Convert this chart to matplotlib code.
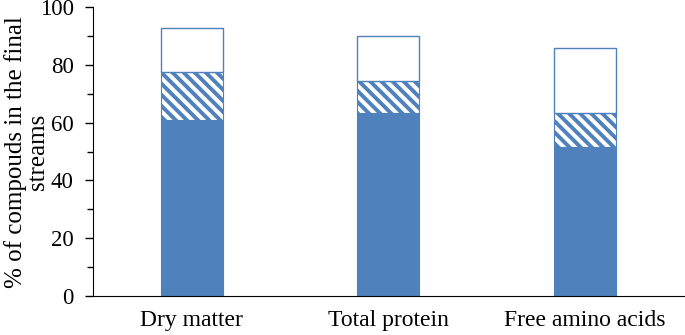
import numpy as np
import matplotlib
matplotlib.use('Agg')
import matplotlib.pyplot as plt

plt.rcParams['font.family'] = 'Liberation Serif'
plt.rcParams['hatch.linewidth'] = 2.8

categories = ['Dry matter', 'Total protein', 'Free amino acids']
solid_part = [61.0, 63.5, 51.5]
hatched_part = [16.7, 11.0, 12.0]
white_part = [15.0, 15.5, 22.2]

blue = '#4F81BD'

fig = plt.figure(figsize=(6.85, 3.35), dpi=100)
ax = fig.add_axes([0.136, 0.116, 0.862, 0.863])

x = np.arange(len(categories))
w = 0.315
ax.bar(x, solid_part, w, color=blue, edgecolor=blue, linewidth=0.8)
ax.bar(x, hatched_part, w, bottom=solid_part, color='white', edgecolor=blue,
       hatch='\\\\\\', linewidth=0.8)
bottom2 = np.array(solid_part) + np.array(hatched_part)
ax.bar(x, white_part, w, bottom=bottom2, color='white', edgecolor=blue, linewidth=1.0)

ax.set_xlim(-0.5, 2.5)
ax.set_ylim(0, 100)
ax.set_yticks(range(0, 101, 20))
ax.set_yticks(range(10, 100, 20), minor=True)
ax.set_xticks(x)
ax.set_xticklabels(categories, fontsize=17)
ax.tick_params(axis='y', labelsize=16.5, direction='out', length=6, width=1, pad=8)
ax.tick_params(axis='y', which='minor', direction='out', length=4, width=1)
ax.tick_params(axis='x', length=0, pad=10)
ax.spines['top'].set_visible(False)
ax.spines['right'].set_visible(False)
ax.set_ylabel('% of compouds in the final\nstreams', fontsize=18, linespacing=1.0)
ax.yaxis.set_label_coords(-0.075, 0.5)

fig.savefig('out.png', dpi=100)
